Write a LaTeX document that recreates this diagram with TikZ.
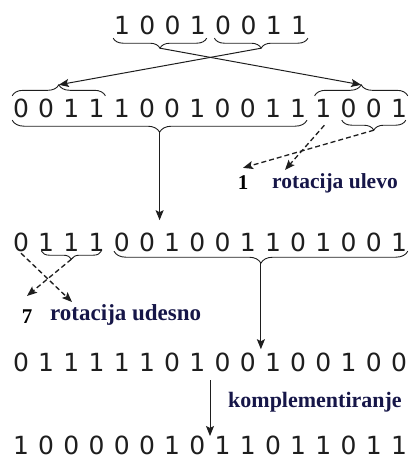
\documentclass[tikz,border=0pt]{standalone}
\usepackage{fontspec}
\setmainfont{Liberation Serif}
\newfontfamily\digitfont{DejaVu Sans}
\usetikzlibrary{decorations.pathreplacing,arrows.meta,calc}
\definecolor{navy}{RGB}{22,22,72}
\definecolor{ink}{RGB}{30,30,30}

\begin{document}
\begin{tikzpicture}[x=1pt,y=-1pt,
  bit/.style={font=\digitfont\fontsize{25}{25}\selectfont, inner sep=0pt,
    minimum width=18pt, minimum height=20pt, text=ink},
  brace/.style={decorate, decoration={brace, amplitude=#1}, line width=0.9pt, draw=ink},
  brace/.default=10pt,
  conn/.style={line width=1pt, draw=ink, -{Stealth[length=10pt,width=8pt,inset=2pt]}},
  dconn/.style={conn, dash pattern=on 5pt off 3pt, line width=1.3pt},
  lbl/.style={font=\bfseries\fontsize{#1}{#1}\selectfont, text=navy, inner sep=0pt, anchor=west},
  lbl/.default=21,
  num/.style={font=\bfseries\fontsize{21}{21}\selectfont, text=black, inner sep=0pt}
]
\useasboundingbox (0,0) rectangle (409,461);

% ---- the five bit rows ----
\foreach \d [count=\i] in {1,0,0,1,0,0,1,1}
  \node[bit] (a\i) at ({122+25.3*(\i-1)},25) {\d};
\foreach \d [count=\i] in {0,0,1,1,1,0,0,1,0,0,1,1,1,0,0,1}
  \node[bit] (b\i) at ({21+25.2*(\i-1)},108) {\d};
\foreach \d [count=\i] in {0,1,1,1,0,0,1,0,0,1,1,0,1,0,0,1}
  \node[bit] (c\i) at ({21+25.2*(\i-1)},242) {\d};
\foreach \d [count=\i] in {0,1,1,1,1,1,0,1,0,0,1,0,0,1,0,0}
  \node[bit] (d\i) at ({21+25.2*(\i-1)},362) {\d};
\foreach \d [count=\i] in {1,0,0,0,0,0,1,0,1,1,0,1,1,0,1,1}
  \node[bit] (e\i) at ({21+25.2*(\i-1)},445) {\d};

% ---- labels ----
\node[num] (one)   at (243,183) {1};
\node[lbl=21.5] (left)  at (272,183) {rotacija ulevo};
\node[num] (seven) at (27,317)  {7};
\node[lbl=23] (right) at (50,315)  {rotacija udesno};
\node[lbl=22] (compl) at (228,402) {komplementiranje};

% ---- brace end points ----
\coordinate (a1l) at ($(a1.south west)+(0.4,3)$);
\coordinate (a4r) at ($(a4.south east)+(-0.4,3)$);
\coordinate (a5l) at ($(a5.south west)+(0.4,3)$);
\coordinate (a8r) at ($(a8.south east)+(-0.4,3)$);

\coordinate (b1t)  at ($(b1.north west)+(0.4,-2)$);
\coordinate (b4t)  at ($(b4.north east)+(-0.4,-2)$);
\coordinate (b13t) at ($(b13.north west)+(0.4,-2)$);
\coordinate (b16t) at ($(b16.north east)+(-0.4,-2)$);
\coordinate (b1b)  at ($(b1.south west)+(0.4,2)$);
\coordinate (b12b) at ($(b12.south east)+(-0.4,2)$);
\coordinate (b14b) at ($(b14.south west)+(2.4,2)$);
\coordinate (b16b) at ($(b16.south east)+(-2.4,2)$);

\coordinate (c2b)  at ($(c2.south west)+(4.4,-1)$);
\coordinate (c4b)  at ($(c4.south east)+(-4.4,-1)$);
\coordinate (c5b)  at ($(c5.south west)+(1.4,-1)$);
\coordinate (c16b) at ($(c16.south east)+(-0.4,-1)$);

% ---- braces ----
\draw[brace] (a4r) -- (a1l);
\draw[brace] (a8r) -- (a5l);
\draw[brace=11pt] (b1t) -- (b4t);
\draw[brace=11pt] (b13t) -- (b16t);
\draw[brace=12pt] (b12b) -- (b1b);
\draw[brace] (b16b) -- (b14b);
\draw[brace=8pt] (c4b) -- (c2b);
\draw[brace=12pt] (c16b) -- (c5b);

% ---- brace tips ----
\coordinate (ta1) at ($(a1l)!0.5!(a4r)+(0,10)$);
\coordinate (ta2) at ($(a5l)!0.5!(a8r)+(0,10)$);
\coordinate (tb1) at ($(b1t)!0.5!(b4t)+(0,-11)$);
\coordinate (tb2) at ($(b13t)!0.5!(b16t)+(0,-11)$);
\coordinate (tb3) at ($(b1b)!0.5!(b12b)+(0,12)$);
\coordinate (tb4) at ($(b14b)!0.5!(b16b)+(0,10)$);
\coordinate (tc1) at ($(c2b)!0.5!(c4b)+(0,8)$);
\coordinate (tc2) at ($(c5b)!0.5!(c16b)+(0,12)$);

% ---- free ends of the connectors ----
\coordinate (cin)  at ($(tb3)+(0,88)$);
\coordinate (din)  at ($(tc2)+(0,86)$);
\coordinate (dout) at ($(d8)!0.5!(d9)+(0,18)$);
\coordinate (ein)  at ($(e8)!0.5!(e9)+(0,-9)$);
\coordinate (lin)  at ($(left.west)+(13,-13)$);
\coordinate (oin)  at ($(one.north)+(0,-8)$);
\coordinate (rin)  at ($(right.west)+(22,-13)$);
\coordinate (sin)  at ($(seven.north)+(0,-14)$);

% ---- connectors ----
\draw[conn] (ta1) -- (tb2);
\draw[conn] (ta2) -- (tb1);
\draw[conn] (tb3) -- (cin);
\draw[conn] (tc2) -- (din);
\draw[conn] (dout) -- (ein);

\draw[dconn] ($(b13.south)+(1,7)$) -- (lin);
\draw[dconn] (tb4) -- (oin);
\draw[dconn] ($(c1.south)+(0,1)$) -- (rin);
\draw[dconn] (tc1) -- (sin);
\end{tikzpicture}
\end{document}
